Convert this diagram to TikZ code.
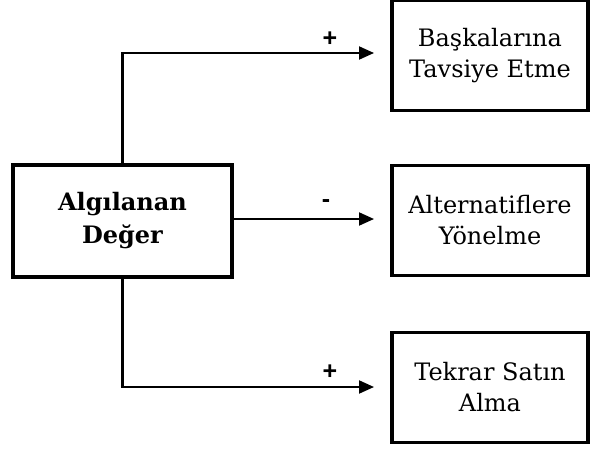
\documentclass[tikz,border=0pt]{standalone}
\usepackage{fontspec}
\setmainfont{DejaVu Serif}
\newfontfamily\plusfont{Liberation Sans}
\usetikzlibrary{arrows.meta}
\begin{document}
\begin{tikzpicture}[x=1pt,y=-1pt,
  box/.style={draw,line width=3.2pt,align=center,inner sep=0pt},
  leftbox/.style={box,minimum width=219pt,minimum height=112pt,font=\fontsize{24}{33}\selectfont\bfseries},
  rightbox/.style={box,minimum width=196pt,minimum height=110pt,font=\fontsize{24}{31}\selectfont},
  stem/.style={line width=3.2pt},
  arr/.style={line width=2pt,-{Triangle[length=15pt,width=13pt]}},
  sign/.style={font=\plusfont\fontsize{25}{25}\selectfont\bfseries,inner sep=0pt}]
\useasboundingbox (0,0) rectangle (590,450);
\node[leftbox] (L) at (122.5,221) {Algılanan\\Değer};
\node[rightbox] (T) at (490,55.5) {Başkalarına\\Tavsiye Etme};
\node[rightbox] (M) at (490,220.5) {Alternatiflere\\Yönelme};
\node[rightbox] (B) at (490,387.5) {Tekrar Satın\\Alma};
\coordinate (tc) at (L.north |- 0,53);
\coordinate (bc) at (L.south |- 0,387);
\coordinate (te) at (374,53);
\coordinate (me) at (374,219);
\coordinate (be) at (374,387);
\draw[stem] (L.north) -- (tc);
\draw[stem] (L.south) -- (bc);
\draw[arr] ([xshift=-1.6pt]tc) -- (te);
\draw[arr] (L.east |- me) -- (me);
\draw[arr] ([xshift=-1.6pt]bc) -- (be);
\node[sign] (p1) at (330,39) {+};
\node[sign] (p2) at (326,204) {-};
\node[sign] (p3) at (330,372) {+};
\end{tikzpicture}
\end{document}
